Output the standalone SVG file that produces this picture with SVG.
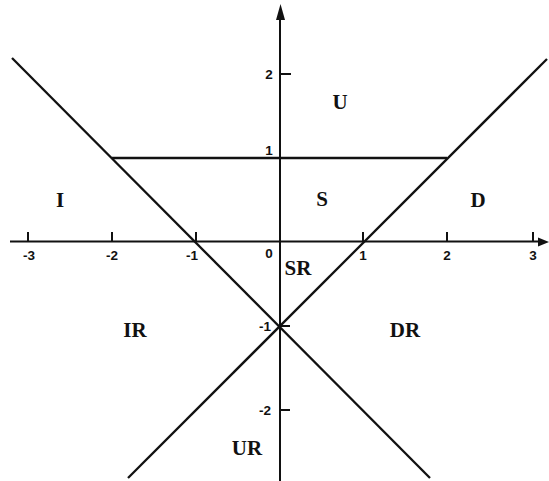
<svg xmlns="http://www.w3.org/2000/svg" width="549" height="481" viewBox="0 0 549 481">
<defs>
<style>
.ln{stroke:#111;stroke-width:2.3;fill:none;stroke-linecap:butt}
.ax{stroke:#111;stroke-width:2;fill:none}
.tk{font-family:"Liberation Sans",Arial,sans-serif;font-weight:bold;font-size:13.5px;fill:#111;text-anchor:middle}
.rg{font-family:"Liberation Serif","Times New Roman",serif;font-weight:bold;font-size:21px;fill:#111;text-anchor:middle}
</style>
</defs>
<rect width="549" height="481" fill="#fff"/>
<g id="axes">
<line class="ax" x1="10" y1="241.5" x2="540" y2="241.5"/>
<polygon points="549,242 538,237.5 538,246.5" fill="#111"/>
<line class="ax" x1="280" y1="481" x2="280" y2="16"/>
<polygon points="280.5,4 276,20 285,20" fill="#111"/>
<g class="ax">
<line x1="28" y1="241" x2="28" y2="232"/>
<line x1="112" y1="241" x2="112" y2="232"/>
<line x1="196" y1="241" x2="196" y2="232"/>
<line x1="363" y1="241" x2="363" y2="232"/>
<line x1="447" y1="241" x2="447" y2="232"/>
<line x1="533" y1="241" x2="533" y2="232"/>
<line x1="280" y1="74" x2="291" y2="74"/>
<line x1="280" y1="326" x2="290" y2="326"/>
<line x1="280" y1="410" x2="290" y2="410"/>
</g>
<text class="tk" x="29" y="260">-3</text>
<text class="tk" x="112" y="260">-2</text>
<text class="tk" x="192" y="260">-1</text>
<text class="tk" x="269" y="258">0</text>
<text class="tk" x="363" y="260">1</text>
<text class="tk" x="447" y="260">2</text>
<text class="tk" x="533" y="260">3</text>
<text class="tk" x="269" y="79">2</text>
<text class="tk" x="269" y="155">1</text>
<text class="tk" x="265" y="331">-1</text>
<text class="tk" x="265" y="415">-2</text>
</g>
<g id="boundaries">
<line class="ln" x1="12" y1="58" x2="430" y2="478"/>
<line class="ln" x1="128" y1="478" x2="547" y2="59"/>
<line class="ln" x1="112" y1="158" x2="447" y2="158"/>
</g>
<g id="regions">
<text class="rg" x="340" y="109">U</text>
<text class="rg" x="322" y="206">S</text>
<text class="rg" x="478" y="207">D</text>
<text class="rg" x="60" y="207">I</text>
<text class="rg" x="298" y="275">SR</text>
<text class="rg" x="135" y="337">IR</text>
<text class="rg" x="405" y="337">DR</text>
<text class="rg" x="247" y="455">UR</text>
</g>
</svg>
